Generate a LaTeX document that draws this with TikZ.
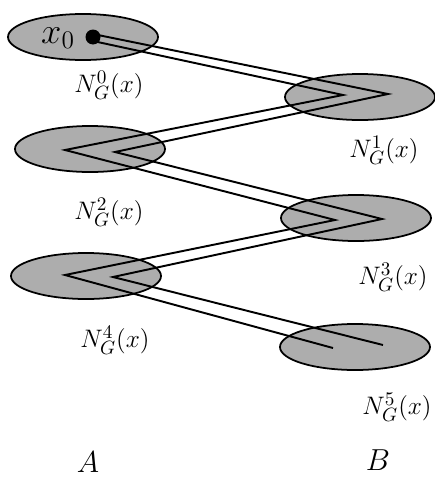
\documentclass[tikz,border=0pt]{standalone}
\usetikzlibrary{calc}

\begin{document}
\begin{tikzpicture}[
    x=0.02cm, y=-0.02cm,
    nbhd/.style={draw=black, line width=1pt, fill=black!32},
    walk/.style={line width=1.1pt, line join=miter},
    lbl/.style={font=\fontsize{15.5}{18}\selectfont},
]
\useasboundingbox (0,0) rectangle (434,477);

% --- Neighbourhoods N_G^i(x) ---
\foreach \i/\x/\y in {0/83/37, 1/360/97, 2/90/149, 3/356/218, 4/86/276, 5/355/347} {
    \coordinate (E\i) at (\x,\y);
    \draw[nbhd] (E\i) ellipse[x radius=75, y radius=23];
}

% --- Zig-zag walk (two strands) ---
\coordinate (a0) at (93,34);
\coordinate (a1) at (388,94);
\coordinate (a2) at (115,152);
\coordinate (a3) at (382,219);
\coordinate (a4) at (113,277);
\coordinate (a5) at (383,345);
\coordinate (b0) at (93,41);
\coordinate (b1) at (343,95);
\coordinate (b2) at (65,150);
\coordinate (b3) at (335,220);
\coordinate (b4) at (65,275);
\coordinate (b5) at (333,348);

\draw[walk] (a0) -- (a1) -- (a2) -- (a3) -- (a4) -- (a5);
\draw[walk] (b0) -- (b1) -- (b2) -- (b3) -- (b4) -- (b5);

% --- Start point ---
\fill (93,37) circle[radius=7.5];
\node[font=\huge] (x0) at (58,38) {$x_0$};

% --- Labels ---
\node[lbl] (N0) at (109,85)  {$N_G^0(x)$};
\node[lbl] (N1) at (384,150) {$N_G^1(x)$};
\node[lbl] (N2) at (109,212) {$N_G^2(x)$};
\node[lbl] (N3) at (393,277) {$N_G^3(x)$};
\node[lbl] (N4) at (115,340) {$N_G^4(x)$};
\node[lbl] (N5) at (397,407) {$N_G^5(x)$};

\node[font=\LARGE] (A) at (88,462) {$A$};
\node[font=\LARGE] (B) at (378,460) {$B$};

\end{tikzpicture}
\end{document}
